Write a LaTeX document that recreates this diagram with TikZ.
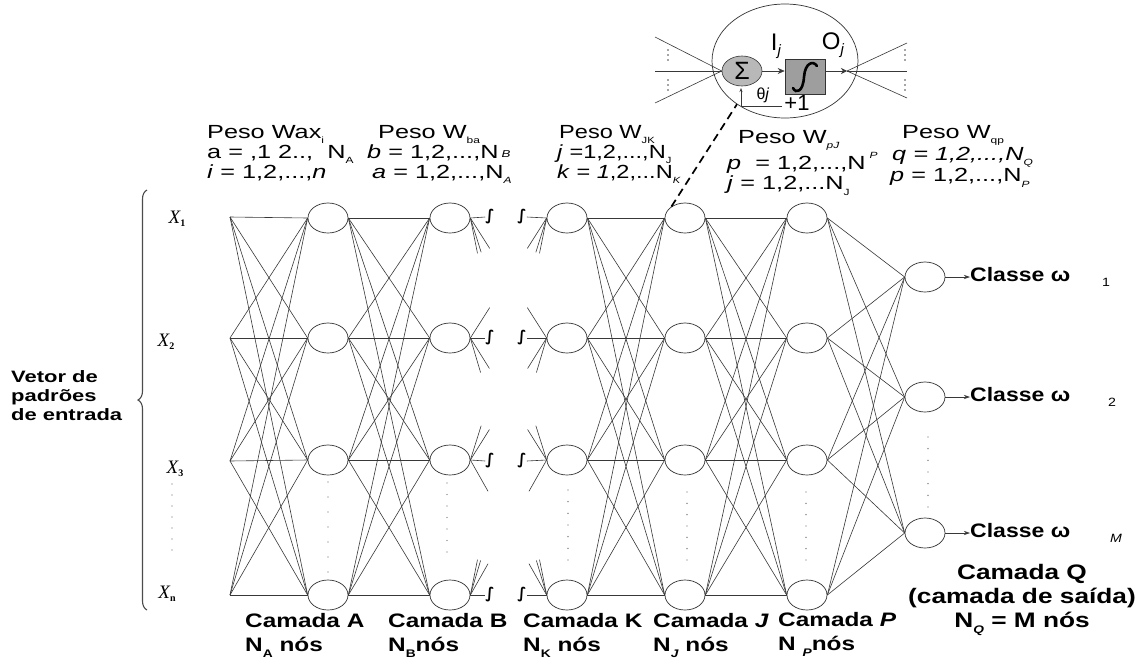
\documentclass[tikz,border=0pt]{standalone}
\usepackage{fontspec}
\setmainfont{Liberation Sans}
\newfontfamily\pesof[FakeStretch=1.33]{Liberation Sans}
\newfontfamily\peson[FakeStretch=1.24]{Liberation Sans}
\newfontfamily\camf[FakeStretch=1.25]{Liberation Sans}
\newfontfamily\clf[FakeStretch=1.18]{Liberation Sans}
\newfontfamily\serf{Liberation Serif}
\newfontfamily\djv{DejaVu Sans}
\usetikzlibrary{shapes.geometric,calc,decorations.pathreplacing,arrows.meta}
\newcommand{\sbx}[2][9]{\raisebox{-0.3em}{\fontsize{#1}{#1}\selectfont #2}}
\newcommand{\xlab}[1]{\serf\itshape\fontsize{19}{19}\selectfont X\raisebox{-3pt}{\fontsize{10}{10}\selectfont\bfseries\upshape #1}}
\begin{document}
\begin{tikzpicture}[x=1pt,y=-1pt,
  conn/.style={line width=0.6pt, draw=black!78},
  neuron/.style={ellipse, draw=black!80, line width=0.7pt, fill=white, minimum width=40pt, minimum height=30pt, inner sep=0pt},
  peso/.style={anchor=north west, inner sep=0pt, align=left, font=\pesof\fontsize{19}{20}\selectfont},
  camada/.style={anchor=north west, inner sep=0pt, align=left, font=\camf\bfseries\fontsize{19.5}{24}\selectfont},
  classe/.style={anchor=west, inner sep=0pt, font=\clf\bfseries\fontsize{19.5}{20}\selectfont},
  intg/.style={inner sep=0pt, font=\djv\bfseries\fontsize{15}{15}\selectfont},
  xl/.style={inner sep=0pt},
  dot/.style={fill=black!60},
  dashline/.style={line width=1.7pt, dash pattern=on 8pt off 5pt}
]
\fill[white] (0,0) rectangle (1144,659);
\useasboundingbox (0,0) rectangle (1144,659);

% neurons
\foreach \L/\x in {A/328,B/450,K/567,J/685,P/807}{
  \foreach \r/\y in {1/218,2/338,3/460,4/595}{
    \node[neuron] (\L\r) at (\x,\y) {};
  }
}
\foreach \r/\y in {1/277,2/397,3/533}{
  \node[neuron] (Q\r) at (925,\y) {};
}
\foreach \r/\y in {1/217,2/338,3/461,4/595}{
  \coordinate (in\r) at (230,\y);
  \node[intg] (bi\r) at (490,\y) {∫};
  \node[intg] (ki\r) at (522,\y) {∫};
}

% full connections
\foreach \i in {1,...,4}{
  \foreach \j in {1,...,4}{
    \draw[conn] (in\i) -- (A\j.west);
    \draw[conn] (A\i.east) -- (B\j.west);
    \draw[conn] (K\i.east) -- (J\j.west);
    \draw[conn] (J\i.east) -- (P\j.west);
    \ifnum\i=\j\relax\else
      \draw[conn] (B\i.east) -- ($(B\i.east)!36pt!(K\j.west)$);
      \draw[conn] (K\i.west) -- ($(K\i.west)!36pt!(B\j.east)$);
    \fi
  }
  \foreach \j in {1,2,3}{
    \draw[conn] (P\i.east) -- (Q\j.west);
  }
  \draw[conn] (B\i.east) -- (bi\i.west);
  \draw[conn] (ki\i.east) -- (K\i.west);
}

% vertical dots
\foreach \x/\a/\b in {172/484/550,328/482/572,447/483/552,568/490/560,687/492/560,806/492/560,928/437/507}{
  \foreach \k in {0,...,6}{
    \fill[dot] (\x,{\a+\k*(\b-\a)/6}) circle (0.7pt);
  }
}

% input labels
\node[xl] (x1) at (177,219) {\xlab{1}};
\node[xl] (x2) at (166,342) {\xlab{2}};
\node[xl] (x3) at (175,469) {\xlab{3}};
\node[xl] (xn) at (167,594) {\xlab{n}};

% brace
\draw[black!70, line width=1.1pt, decorate, decoration={brace, amplitude=9pt}] (147,610) -- (147,190);
\node[anchor=west, inner sep=0pt, align=left, font=\pesof\bfseries\fontsize{16.5}{19}\selectfont] (vet) at (11,396) {Vetor de\\padrões\\de entrada};

% outputs
\node[classe] (c1) at (970,277) {Classe ω\hspace{32pt}\sbx[12]{\mdseries 1}};
\node[classe] (c2) at (970,397) {Classe ω\hspace{38pt}\sbx[12]{\mdseries 2}};
\node[classe] (c3) at (970,533) {Classe ω\hspace{40pt}\sbx[12]{\mdseries\itshape M}};
\foreach \r in {1,2,3}{
  \draw[conn, -{Stealth[length=6pt,width=4pt]}] (Q\r.east) -- (c\r.west);
}

% weight labels
\node[peso] (w1) at (207,125) {Peso Wax\sbx{i}\\a = ,1 2..,\ \ N\sbx{A}\\\textit{i} = 1,2,...,\textit{n}};
\node[peso] (w2) at (367,125) {\hspace*{11pt}Peso W\sbx{ba}\\\textit{b} = 1,2,...,N\,\raisebox{0.05em}{\fontsize{10}{10}\selectfont\textit{B}}\\\hspace*{5pt}\textit{a} = 1,2,...,N\sbx{\textit{A}}};
\node[peso, font=\peson\fontsize{19}{20}\selectfont] (w3) at (557,125) {\hspace*{2pt}Peso W\sbx{JK}\\\textit{j} =1,2,...,N\sbx{J}\\\textit{k} = \textit{1},2,...N\sbx{\textit{K}}};
\node[peso] (w4) at (727,130) {\hspace*{11pt}Peso W\sbx{\textit{pJ}}\\\textit{p}\ \ = 1,2,...,N\hspace{4pt}\raisebox{0.6em}{\fontsize{9}{9}\selectfont\textit{P}}\\\textit{j} = 1,2,...N\sbx{J}};
\node[peso] (w5) at (890,125) {\hspace*{12pt}Peso W\sbx{qp}\\\hspace*{2pt}\textit{q = 1,2,...,N\sbx{Q}}\\\textit{p} = 1,2,...,N\sbx{\textit{P}}};

% layer labels
\node[camada] (lA) at (245,613) {Camada A\\N\sbx[11]{A} nós};
\node[camada] (lB) at (388,613) {Camada B\\N\sbx[11]{B}nós};
\node[camada] (lK) at (523,613) {Camada K\\N\sbx[11]{K} nós};
\node[camada] (lJ) at (653,613) {Camada \textit{J}\\N\sbx[11]{\textit{J}} nós};
\node[camada] (lP) at (778,612) {Camada \textit{P}\\N \sbx[11]{\textit{P}}nós};
\node[anchor=north, inner sep=0pt, align=center, font=\camf\bfseries\fontsize{21}{24}\selectfont] (lQ) at (1022,564) {Camada Q\\(camada de saída)\\N\sbx[11]{\textit{Q}} = M nós};

% inset neuron
\node[ellipse, draw=black!80, line width=0.7pt, minimum width=146pt, minimum height=114pt, inner sep=0pt] (big) at (785,61) {};
\node[ellipse, draw=black!80, line width=0.6pt, fill=black!28, minimum width=40pt, minimum height=30pt, inner sep=0pt, font=\fontsize{25}{25}\selectfont] (sig) at (742,71) {Σ};
\node[draw=black!80, line width=0.6pt, fill=black!38, minimum width=40pt, minimum height=35pt, inner sep=0pt] (box) at (805,77) {};
\draw[line width=2.6pt, line cap=round] ($(box.center)+(-12,11)$) .. controls ($(box.center)+(-9,17)$) and ($(box.center)+(-2,15)$) .. ($(box.center)+(-1,0)$) .. controls ($(box.center)+(0,-14)$) and ($(box.center)+(8,-17)$) .. ($(box.center)+(12,-11)$);
\draw[conn, -{Stealth[length=7pt,width=6pt]}] (sig.east) -- (box.west |- sig.east);
\coordinate (fan) at (847,71);
\draw[conn, -{Stealth[length=6pt,width=6pt]}] (box.east |- fan) -- (fan);
\coordinate (o1) at (907,43);
\coordinate (o2) at (907,71);
\coordinate (o3) at (907,98);
\foreach \o in {o1,o2,o3}{\draw[conn] (fan) -- (\o);}
\coordinate (i1) at (655,37);
\coordinate (i2) at (655,71);
\coordinate (i3) at (655,103);
\foreach \i in {i1,i2,i3}{\draw[conn] (\i) -- (sig.west);}
\foreach \x in {668,905}{
  \foreach \y in {50,55,60,80,85,90}{\fill[black!70] (\x,\y) circle (0.8pt);}
}
\coordinate (thA) at (782,106);
\coordinate (thB) at (741,106);
\coordinate (thC) at (741,88);
\draw[conn, -{Stealth[length=4pt,width=3pt]}] (thA) -- (thB) -- (thC);
\node[inner sep=0pt, font=\fontsize{16}{16}\selectfont] (theta) at (763,95) {θ\textit{j}};
\node[inner sep=0pt, font=\fontsize{22}{22}\selectfont] (plus) at (797,103) {+1};
\node[inner sep=0pt, font=\fontsize{24}{24}\selectfont] (Ij) at (776,46) {I\raisebox{-5pt}{\fontsize{15}{15}\selectfont\textit{j}}};
\node[inner sep=0pt, font=\fontsize{24}{24}\selectfont] (Oj) at (833,45) {O\raisebox{-5pt}{\fontsize{15}{15}\selectfont\textit{j}}};
\draw[dashline] (J1.140) -- (big.222);
\end{tikzpicture}
\end{document}
